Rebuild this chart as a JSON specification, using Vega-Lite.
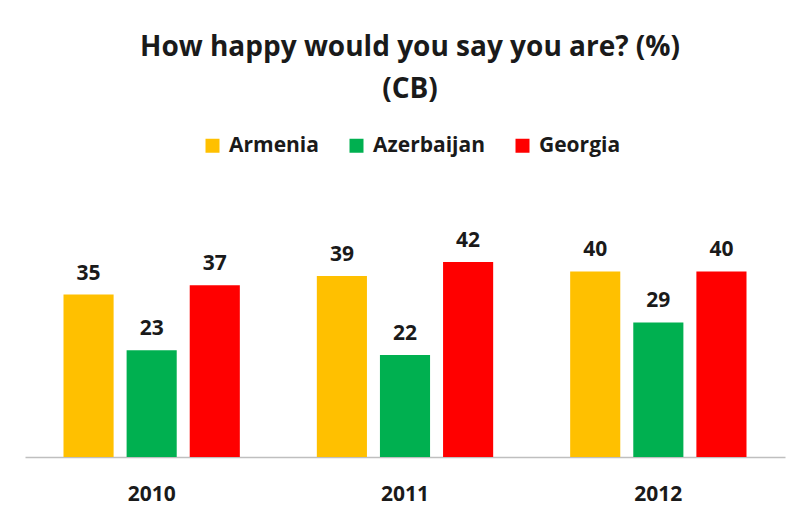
{
  "$schema": "https://vega.github.io/schema/vega-lite/v6.json",
  "autosize": "none",
  "width": 760,
  "height": 232,
  "padding": {"left": 25, "top": 225, "right": 12, "bottom": 58},
  "background": "white",
  "config": {
    "view": {"stroke": null},
    "font": "Open Sans"
  },
  "title": {
    "text": ["How happy would you say you are? (%)", "(CB)"],
    "fontSize": 28,
    "fontWeight": "bold",
    "color": "#1a1a1a",
    "lineHeight": 42,
    "anchor": "middle",
    "dx": 5,
    "offset": 31
  },
  "data": {
    "values": [
      {"year": "2010", "country": "Armenia", "value": 35},
      {"year": "2010", "country": "Azerbaijan", "value": 23},
      {"year": "2010", "country": "Georgia", "value": 37},
      {"year": "2011", "country": "Armenia", "value": 39},
      {"year": "2011", "country": "Azerbaijan", "value": 22},
      {"year": "2011", "country": "Georgia", "value": 42},
      {"year": "2012", "country": "Armenia", "value": 40},
      {"year": "2012", "country": "Azerbaijan", "value": 29},
      {"year": "2012", "country": "Georgia", "value": 40}
    ]
  },
  "encoding": {
    "x": {
      "field": "year",
      "type": "nominal",
      "scale": {"paddingInner": 0, "paddingOuter": 0},
      "axis": {
        "title": null,
        "labelAngle": 0,
        "labelFontSize": 21,
        "labelFontWeight": "bold",
        "labelColor": "#1a1a1a",
        "labelPadding": 26,
        "ticks": false,
        "domainColor": "#bfbfbf",
        "domainWidth": 1.5
      }
    },
    "xOffset": {
      "field": "country",
      "type": "nominal",
      "scale": {"paddingInner": 0.206, "paddingOuter": 0.61}
    },
    "y": {
      "field": "value",
      "type": "quantitative",
      "scale": {"domain": [0, 50]},
      "axis": null
    }
  },
  "layer": [
    {
      "mark": {"type": "bar"},
      "encoding": {
        "color": {
          "field": "country",
          "type": "nominal",
          "scale": {
            "domain": ["Armenia", "Azerbaijan", "Georgia"],
            "range": ["#FFC000", "#00B050", "#FF0000"]
          },
          "legend": {
            "title": null,
            "orient": "none",
            "legendX": 177,
            "legendY": -90,
            "direction": "horizontal",
            "symbolType": "square",
            "symbolSize": 196,
            "symbolStrokeWidth": 0,
            "labelFontSize": 21,
            "labelFontWeight": "bold",
            "labelColor": "#1a1a1a",
            "labelOffset": 6,
            "columnPadding": 27
          }
        }
      }
    },
    {
      "mark": {"type": "text", "baseline": "alphabetic", "dy": -15, "fontSize": 21, "fontWeight": "bold", "color": "#1a1a1a"},
      "encoding": {
        "text": {"field": "value", "type": "quantitative"}
      }
    }
  ]
}
